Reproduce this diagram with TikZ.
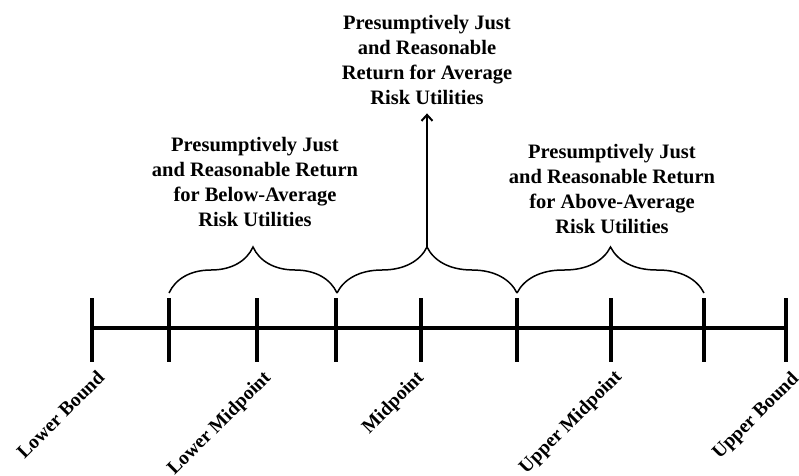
\documentclass[tikz,border=0pt]{standalone}
\usepackage{fontspec}
\setmainfont{Liberation Serif}
\usepackage{xcolor}
\usepackage{tikz}
\usetikzlibrary{arrows.meta,decorations.pathreplacing}
\definecolor{ink}{HTML}{000000}
\tikzset{
  axis/.style={draw=ink, line width=4.5pt},
  tick/.style={draw=ink, line width=4pt},
  brc/.style={draw=ink, line width=1.5pt, decorate, decoration={brace, amplitude=46pt}},
  up/.style={draw=ink, line width=2pt, -{Straight Barb[length=6pt,width=11pt]}},
  note/.style={align=center, inner sep=0pt, text=ink, font=\fontsize{20.5}{25}\selectfont\bfseries},
  lab/.style={rotate=45, anchor=north east, inner sep=0pt, text=ink, font=\fontsize{19.5}{23}\selectfont\bfseries}
}

\begin{document}
\begin{tikzpicture}[x=1pt,y=1pt]
  \useasboundingbox (0,0) rectangle (799,475);

  % points on the scale
  \foreach \n/\x in {1/92,2/169,3/257,4/336,5/421,6/517,7/611,8/704,9/786}
    \coordinate (t\n) at (\x,147);
  \draw[axis] (t1) -- (t9);
  \foreach \n in {1,...,9}
    \draw[tick] ([yshift=30pt]t\n) -- ([yshift=-34pt]t\n);

  % ranges
  \coordinate (b1) at (169,182);
  \coordinate (b2) at (337,182);
  \coordinate (b3) at (517,182);
  \coordinate (b4) at (704,182);
  \coordinate (tipM) at (427,228);
  \draw[brc] (b1) -- (b2);
  \draw[brc] (b2) -- (b3);
  \draw[brc] (b3) -- (b4);

  \node[note] (nBelow) at (255,293.5) {Presumptively Just\\and Reasonable Return\\for Below-Average\\Risk Utilities};
  \node[note] (nAvg) at (427,415.5) {Presumptively Just\\and Reasonable\\Return for Average\\Risk Utilities};
  \node[note] (nAbove) at (612,286) {Presumptively Just\\and Reasonable Return\\for Above-Average\\Risk Utilities};
  \draw[up, shorten >=9pt] (tipM) -- (nAvg.south);

  \node[lab] (lLo) at (96,106) {Lower Bound};
  \node[lab] (lLm) at (262,106) {Lower Midpoint};
  \node[lab] (lMd) at (415,106) {Midpoint};
  \node[lab] (lUm) at (613,107) {Upper Midpoint};
  \node[lab] (lUp) at (790,105) {Upper Bound};
\end{tikzpicture}
\end{document}
